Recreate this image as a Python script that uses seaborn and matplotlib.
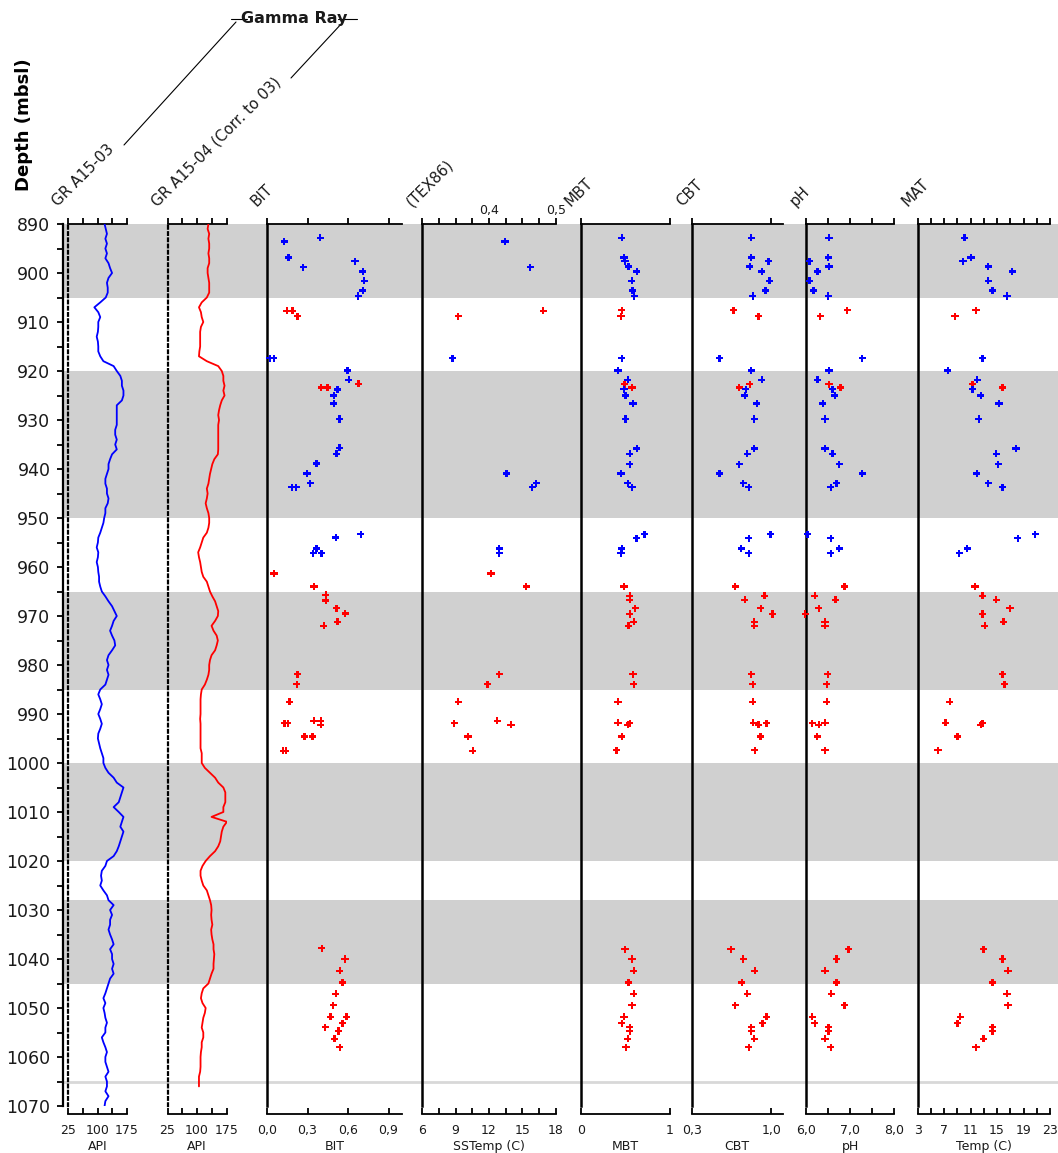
import numpy as np
import pandas as pd
import matplotlib
matplotlib.use("Agg")
import matplotlib.pyplot as plt
from matplotlib.lines import Line2D
from matplotlib.ticker import MultipleLocator
import seaborn as sns

sns.set_theme(style="white")
plt.rcParams['font.family'] = ['DejaVu Sans']

# ---------------- data ----------------
BANDS = [(890, 905), (920, 950), (965, 985), (1000, 1020), (1028, 1045)]
THIN_LINE_DEPTH = 1065

gr03_depth = np.arange(890, 1071)
gr03_api = [118, 121, 124, 120, 124, 120, 124, 120, 128, 132,
            137, 128, 124, 126, 126, 121, 107, 92, 102, 107,
            102, 102, 101, 98, 101, 102, 102, 107, 115, 141,
            149, 158, 162, 162, 166, 166, 162, 149, 149, 149,
            149, 149, 145, 145, 149, 145, 149, 137, 132, 128,
            128, 124, 120, 120, 124, 124, 128, 126, 120, 120,
            117, 115, 111, 107, 102, 101, 98, 102, 101, 98,
            101, 102, 104, 104, 107, 111, 120, 128, 137, 143,
            149, 141, 137, 132, 137, 143, 145, 137, 128, 124,
            128, 124, 128, 124, 120, 107, 102, 107, 111, 107,
            102, 107, 111, 107, 102, 101, 104, 107, 111, 115,
            115, 120, 128, 141, 149, 166, 162, 158, 154, 141,
            154, 166, 162, 158, 166, 162, 158, 154, 149, 141,
            124, 120, 111, 109, 111, 107, 115, 124, 128, 141,
            132, 137, 132, 132, 128, 132, 137, 141, 132, 137,
            137, 141, 137, 141, 132, 128, 124, 120, 115, 120,
            115, 118, 120, 124, 120, 120, 111, 115, 120, 124,
            120, 120, 124, 128, 120, 124, 124, 120, 128, 120,
            118]

gr04_depth = np.arange(890, 1067)
gr04_api = [129, 127, 131, 129, 131, 131, 129, 131, 131, 127,
            127, 129, 131, 131, 131, 125, 112, 105, 110, 112,
            116, 110, 108, 108, 108, 108, 106, 105, 125, 154,
            163, 167, 167, 170, 167, 170, 163, 159, 156, 154,
            156, 154, 154, 154, 154, 154, 154, 153, 144, 139,
            136, 133, 131, 129, 125, 127, 125, 122, 125, 129,
            131, 131, 129, 125, 116, 112, 108, 103, 105, 108,
            110, 112, 116, 125, 129, 133, 139, 146, 150, 154,
            153, 146, 137, 142, 150, 153, 150, 146, 137, 133,
            131, 131, 129, 125, 120, 112, 110, 109, 109, 109,
            109, 108, 109, 109, 109, 109, 109, 109, 112, 112,
            112, 120, 133, 146, 154, 167, 172, 172, 172, 167,
            167, 137, 176, 167, 163, 161, 159, 154, 146, 133,
            122, 114, 109, 109, 112, 116, 125, 129, 133, 136,
            137, 136, 137, 139, 136, 137, 139, 142, 142, 144,
            143, 142, 142, 137, 133, 129, 116, 112, 110, 114,
            122, 120, 116, 114, 112, 116, 116, 112, 112, 110,
            109, 109, 109, 108, 105, 105, 105]

WELL = {"B": "A15-03", "R": "A15-04"}

bit_depth = [892.8, 893.6, 896.8, 897.6, 898.8, 899.7, 901.6, 903.6, 904.7,
             907.7, 907.7, 908.8, 917.4, 917.4, 919.9, 921.8, 922.6, 923.4,
             923.4, 923.8, 925.0, 926.6, 929.8, 935.7, 936.9, 938.9, 940.9,
             942.9, 943.7, 943.7, 953.3, 954.0, 956.2, 957.2, 957.2, 961.3,
             964.0, 965.7, 966.8, 968.4, 969.5, 971.2, 972.0, 981.9, 983.9,
             987.5, 991.4, 991.4, 991.9, 991.9, 992.2, 994.6, 994.6, 997.5,
             997.5, 1037.8, 1040.0, 1042.4, 1044.8, 1047.1, 1049.4, 1051.8,
             1051.8, 1053.1, 1053.9, 1054.7, 1056.3, 1058.0]
bit_value = [0.393, 0.128, 0.16, 0.652, 0.267, 0.709, 0.719, 0.709, 0.676,
             0.146, 0.188, 0.227, 0.02, 0.05, 0.595, 0.607, 0.679, 0.402,
             0.449, 0.521, 0.494, 0.494, 0.536, 0.536, 0.514, 0.368, 0.296,
             0.319, 0.183, 0.215, 0.694, 0.509, 0.368, 0.343, 0.405, 0.052,
             0.348, 0.435, 0.435, 0.514, 0.58, 0.521, 0.42, 0.225, 0.22,
             0.168, 0.348, 0.398, 0.13, 0.155, 0.398, 0.277, 0.336, 0.12,
             0.14, 0.407, 0.578, 0.54, 0.56, 0.51, 0.49, 0.47,
             0.59, 0.56, 0.43, 0.53, 0.50, 0.54]
bit_well = "BBBBBBBBBRRRBBBBRRRBBBBBBBBBBBBBBBBRRRRRRRRRRRRRRRRRRRRRRRRRRRRRRRRR"

sst_depth = [893.6, 898.8, 907.7, 908.8, 917.4, 940.9, 942.9, 943.7, 956.2, 957.2,
             961.3, 964.0, 981.9, 983.9, 987.5, 991.4, 991.9, 992.2, 994.6, 997.5]
sst_value = [13.43, 15.7, 16.86, 9.25, 8.72, 13.58, 16.23, 15.87, 12.92, 12.92,
             12.18, 15.34, 12.92, 11.85, 9.25, 12.74, 8.89, 13.97, 10.12, 10.54]
sst_well = "BBRRBBBBBBRRRRRRRRRR"

mb_depth = [892.8, 896.8, 897.6, 898.7, 899.7, 901.6, 903.6, 904.7, 907.6, 908.8,
            917.4, 919.9, 921.8, 922.7, 923.4, 923.7, 925.0, 926.6, 929.8, 935.8,
            936.9, 939.0, 940.9, 942.9, 943.7, 953.3, 954.1, 956.2, 957.2, 964.0,
            965.9, 966.7, 968.4, 969.6, 971.2, 972.0, 981.9, 983.9, 987.5, 991.8,
            991.9, 992.2, 994.6, 997.4, 1038.0, 1040.0, 1042.4, 1044.8, 1047.1,
            1049.4, 1051.8, 1053.1, 1053.9, 1054.7, 1056.3, 1058.0]
mb_well = "BBBBBBBBRRBBBRRBBBBBBBBBBBBBBRRRRRRRRRRRRRRRRRRRRRRRRRRR"
mbt = [0.46, 0.483, 0.494, 0.532, 0.626, 0.57, 0.58, 0.596, 0.46, 0.449,
       0.46, 0.416, 0.525, 0.487, 0.573, 0.483, 0.502, 0.584, 0.502, 0.626,
       0.547, 0.55, 0.449, 0.525, 0.573, 0.715, 0.622, 0.46, 0.449, 0.483,
       0.55, 0.55, 0.61, 0.547, 0.592, 0.532, 0.584, 0.592, 0.416, 0.416,
       0.55, 0.525, 0.46, 0.397, 0.494, 0.573, 0.592, 0.532, 0.592,
       0.573, 0.483, 0.46, 0.55, 0.55, 0.525, 0.506]
cbt = [0.823, 0.823, 0.976, 0.811, 0.917, 0.985, 0.949, 0.837, 0.666, 0.887,
       0.542, 0.823, 0.917, 0.811, 0.716, 0.775, 0.767, 0.873, 0.849, 0.849,
       0.787, 0.716, 0.542, 0.752, 0.802, 0.994, 0.802, 0.734, 0.802, 0.681,
       0.941, 0.767, 0.908, 1.011, 0.849, 0.849, 0.823, 0.837, 0.837, 0.84,
       0.958, 0.887, 0.905, 0.855, 0.645, 0.752, 0.855, 0.74, 0.787,
       0.681, 0.958, 0.923, 0.823, 0.823, 0.849, 0.802]
ph = [6.52, 6.50, 6.08, 6.52, 6.26, 6.08, 6.17, 6.50, 6.93, 6.32,
      7.27, 6.52, 6.26, 6.52, 6.78, 6.60, 6.65, 6.38, 6.43, 6.43,
      6.60, 6.75, 7.27, 6.69, 6.56, 6.03, 6.56, 6.75, 6.56, 6.87,
      6.20, 6.67, 6.29, 5.98, 6.43, 6.43, 6.49, 6.47, 6.47, 6.43,
      6.14, 6.29, 6.25, 6.43, 6.96, 6.69, 6.43, 6.69, 6.57,
      6.87, 6.14, 6.20, 6.51, 6.51, 6.43, 6.56]
mat = [10.06, 11.07, 9.86, 13.68, 17.3, 13.68, 14.29, 16.5, 11.82, 8.65,
       12.83, 7.55, 12.02, 11.32, 15.8, 11.32, 12.53, 15.3, 12.23, 17.86,
       14.89, 15.19, 11.93, 13.68, 15.8, 20.78, 18.12, 10.51, 9.3, 11.67,
       12.83, 14.89, 16.96, 12.83, 15.95, 13.14, 15.8, 16.1, 7.85, 7.24,
       12.78, 12.53, 9.0, 6.08, 12.98, 15.8, 16.66, 14.29, 16.5,
       16.66, 9.45, 9.0, 14.29, 14.29, 12.98, 11.82]

PALETTE = {"A15-03": "#0000ff", "A15-04": "#ff0000"}

# ---------------- layout ----------------
W, H = 1058, 1153
TOP_Y, BOT_Y = 224, 1106
fig = plt.figure(figsize=(W / 100, H / 100), dpi=100)


def rect(x0, x1):
    return [x0 / W, 1 - BOT_Y / H, (x1 - x0) / W, (BOT_Y - TOP_Y) / H]


def fx(x):
    return x / W


def fy(y):
    return 1 - y / H


TXT = "#1a1a1a"

bg = fig.add_axes(rect(63, 1058))
bg.set_xlim(0, 1)
bg.set_ylim(1070, 890)
for a, b in BANDS:
    bg.axhspan(a, b, color="#d0d0d0", lw=0, zorder=0)
bg.axhline(THIN_LINE_DEPTH, color="#d8d8d8", lw=2, zorder=0)
for s in ["top", "right", "bottom"]:
    bg.spines[s].set_visible(False)
bg.spines["left"].set_linewidth(1.6)
bg.spines["left"].set_color("black")
bg.set_xticks([])
bg.yaxis.set_major_locator(MultipleLocator(10))
bg.yaxis.set_minor_locator(MultipleLocator(5))
bg.tick_params(axis="y", which="both", left=True, direction="out", length=4,
               width=1.3, color="black", labelsize=12.5, labelcolor=TXT, pad=5)
bg.set_facecolor("white")

panels = [
    dict(title="GR A15-03", x0=68, x1=127, lim=(25, 175),
         ticks=[25, 62.5, 100, 137.5, 175], labels=["25", "", "100", "", "175"],
         xlabel="API", dotted=True),
    dict(title="GR A15-04 (Corr. to 03)", x0=167.5, x1=226.5, lim=(25, 175),
         ticks=[25, 62.5, 100, 137.5, 175], labels=["25", "", "100", "", "175"],
         xlabel="API", dotted=True),
    dict(title="BIT", x0=267, x1=402, lim=(0, 1.0),
         ticks=[0, 0.3, 0.6, 0.9], labels=["0,0", "0,3", "0,6", "0,9"],
         xlabel="BIT", dotted=False),
    dict(title="(TEX86)", x0=422, x1=556, lim=(6, 18),
         ticks=[6, 7.5, 9, 10.5, 12, 13.5, 15, 16.5, 18],
         labels=["6", "", "9", "", "12", "", "15", "", "18"],
         xlabel="SSTemp (C)", dotted=False),
    dict(title="MBT", x0=581, x1=670, lim=(0, 1),
         ticks=[0, 1], labels=["0", "1"], xlabel="MBT", dotted=False),
    dict(title="CBT", x0=692, x1=782.5, lim=(0.3, 1.1),
         ticks=[0.3, 1.0], labels=["0,3", "1,0"], xlabel="CBT", dotted=False),
    dict(title="pH", x0=806, x1=894.5, lim=(6, 8),
         ticks=[6, 6.5, 7, 7.5, 8], labels=["6,0", "", "7,0", "", "8,0"],
         xlabel="pH", dotted=False),
    dict(title="MAT", x0=917.6, x1=1050, lim=(3, 23),
         ticks=list(range(3, 24, 2)),
         labels=["3", "", "7", "", "11", "", "15", "", "19", "", "23"],
         xlabel="Temp (C)", dotted=False),
]

axes = []
for p in panels:
    ax = fig.add_axes(rect(p["x0"], p["x1"]))
    ax.set_facecolor("none")
    axes.append(ax)


def scatter(ax, x, y, wells):
    df = pd.DataFrame({"x": x, "y": y, "well": [WELL[c] for c in wells]})
    sns.scatterplot(data=df, x="x", y="y", hue="well", palette=PALETTE,
                    marker="P", s=26, linewidth=0, legend=False, ax=ax,
                    clip_on=False, zorder=4)


sns.lineplot(x=gr03_api, y=gr03_depth, orient="y", estimator=None,
             color="#0000ff", lw=1.3, ax=axes[0], zorder=3)
sns.lineplot(x=gr04_api, y=gr04_depth, orient="y", estimator=None,
             color="#ff0000", lw=1.3, ax=axes[1], zorder=3)
scatter(axes[2], bit_value, bit_depth, bit_well)
scatter(axes[3], sst_value, sst_depth, sst_well)
scatter(axes[4], mbt, mb_depth, mb_well)
scatter(axes[5], cbt, mb_depth, mb_well)
scatter(axes[6], ph, mb_depth, mb_well)
scatter(axes[7], mat, mb_depth, mb_well)

for ax, p in zip(axes, panels):
    ax.set_xlim(*p["lim"])
    ax.set_ylim(1070, 890)
    ax.set_yticks([])
    ax.set_ylabel("")
    ax.spines["top"].set_visible(False)
    ax.spines["right"].set_visible(False)
    ax.spines["left"].set_color("black")
    if p["dotted"]:
        ax.spines["left"].set_linestyle((0, (1.2, 1.6)))
        ax.spines["left"].set_linewidth(1.6)
    else:
        ax.spines["left"].set_linewidth(1.8)
    ax.spines["bottom"].set_position(("outward", 6))
    ax.spines["bottom"].set_linewidth(1.3)
    ax.spines["bottom"].set_color("black")
    ax.set_xticks(p["ticks"])
    ax.set_xticklabels(p["labels"])
    ax.tick_params(axis="x", which="both", bottom=True, direction="in", length=4,
                   width=1.3, color="black", labelsize=9, labelcolor=TXT, pad=7)
    ax.set_xlabel(p["xlabel"], fontsize=9, color=TXT, labelpad=2)

    if p["title"] == "(TEX86)":
        sec = ax.secondary_xaxis("top", functions=(lambda s: 0.3 + (s - 6) / 60.0,
                                                   lambda t: 6 + (t - 0.3) * 60.0))
        tex_ticks = [0.3, 0.325, 0.35, 0.375, 0.4, 0.425, 0.45, 0.475, 0.5]
        sec.set_xticks(tex_ticks)
        sec.set_xticklabels(["" if t not in (0.4, 0.5) else ("0,4" if t == 0.4 else "0,5")
                             for t in tex_ticks])
    else:
        sec = ax.secondary_xaxis("top")
        sec.set_xticks(p["ticks"])
        sec.set_xticklabels([])
    sec.spines["top"].set_linewidth(1.3)
    sec.spines["top"].set_color("black")
    sec.tick_params(axis="x", direction="out", length=4, width=1.3, color="black",
                    labelsize=9, labelcolor=TXT, pad=1)

    fig.text(fx(p["x0"] - 10), fy(207), p["title"], rotation=45,
             rotation_mode="anchor", ha="left", va="baseline", fontsize=10.8, color=TXT)

# header
fig.text(fx(24), fy(125), "Depth (mbsl)", rotation=90, ha="center", va="center",
         fontsize=13, fontweight="bold", color="black")
fig.text(fx(294), fy(19), "Gamma Ray", ha="center", va="center", fontsize=11.5,
         fontweight="bold", color=TXT)
for (xa, ya), (xb, yb) in [((124, 145), (236, 22)), ((291, 78), (343, 22)),
                           ((231, 19), (247, 19)), ((338, 19), (357, 19))]:
    fig.add_artist(Line2D([fx(xa), fx(xb)], [fy(ya), fy(yb)], color="black", lw=0.8))

fig.savefig("out.png", dpi=100)
